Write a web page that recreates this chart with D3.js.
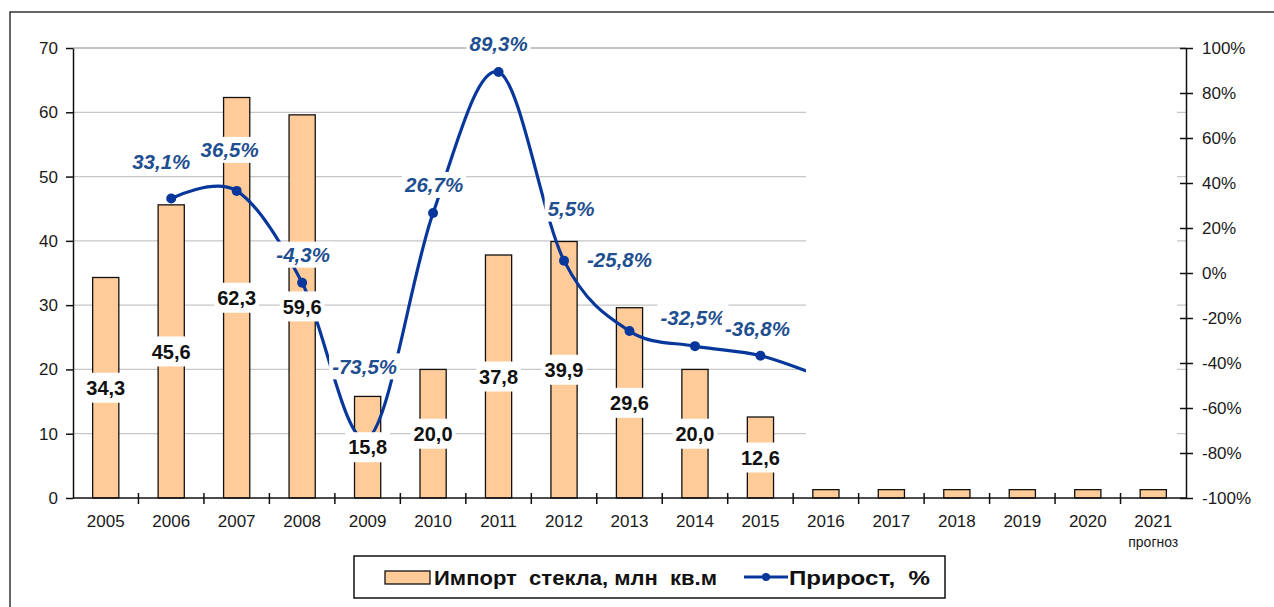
<!DOCTYPE html>
<html>
<head>
<meta charset="utf-8">
<script src="https://cdn.jsdelivr.net/npm/d3@7"></script>
<style>
  html, body { margin: 0; padding: 0; background: #fff; }
  svg { display: block; }
  text { font-family: Arial, "Liberation Sans", sans-serif; }
</style>
</head>
<body>
<svg id="chart" width="1274" height="607"></svg>
<script>
// data
const years = ["2005","2006","2007","2008","2009","2010","2011","2012","2013","2014","2015","2016","2017","2018","2019","2020","2021"]
const imports = [34.3, 45.6, 62.3, 59.6, 15.8, 20.0, 37.8, 39.9, 29.6, 20.0, 12.6, 1.3, 1.3, 1.3, 1.3, 1.3, 1.3]
const importLabels = ["34,3","45,6","62,3","59,6","15,8","20,0","37,8","39,9","29,6","20,0","12,6","","","","","",""]
// growth, %, 2006..2016 (2016 hidden behind the blank box)
const growthYears = ["2006","2007","2008","2009","2010","2011","2012","2013","2014","2015","2016"]
const growth = [33.1, 36.5, -4.3, -73.5, 26.7, 89.3, 5.5, -25.8, -32.5, -36.8, -47]
const growthLabels = ["33,1%","36,5%","-4,3%","-73,5%","26,7%","89,3%","5,5%","-25,8%","-32,5%","-36,8%",""]
const leftTicks = [0, 10, 20, 30, 40, 50, 60, 70]
const rightTicks = [-100, -80, -60, -40, -20, 0, 20, 40, 60, 80, 100]
const seriesNames = ["Импорт  стекла, млн  кв.м", "Прирост,  %"]

// label placement relative to point (manual, like the original)
const labelShift = [[-10,-37],[-7,-41],[1,-28],[-3,-72],[1,-28],[0,-28],[7,-52],[-10,-71],[-2,-29],[-3,-27],[0,0]]

const svg = d3.select("#chart")
const L = 73, R = 1186, T = 48, B = 498

const x = d3.scaleBand().domain(years).range([L, R]).padding(0)
const yL = d3.scaleLinear().domain([0, 70]).range([B, T])
const yR = d3.scaleLinear().domain([-100, 100]).range([B, T])
const cx = d => x(d) + x.bandwidth() / 2
const barW = x.bandwidth() * 0.4

const lineColor = "#07379b"
const labColor = "#1f4f90"

// outer frame
svg.append("rect")
  .attr("x", 10).attr("y", 12).attr("width", 1400).attr("height", 800)
  .attr("fill", "none").attr("stroke", "#333").attr("stroke-width", 1.5)

// gridlines
svg.append("g").selectAll("line")
  .data(leftTicks.filter(v => v > 0))
  .join("line")
  .attr("x1", L).attr("x2", R)
  .attr("y1", d => yL(d)).attr("y2", d => yL(d))
  .attr("stroke", d => d == 70 ? "#8a8a8a" : "#c6c6c6")
  .attr("stroke-width", 1.2)

// bars
svg.append("g").selectAll("rect")
  .data(imports)
  .join("rect")
  .attr("x", (d, i) => cx(years[i]) - barW / 2)
  .attr("y", d => yL(d))
  .attr("width", barW)
  .attr("height", d => B - yL(d))
  .attr("fill", "#ffcc99")
  .attr("stroke", "#111")
  .attr("stroke-width", 1.3)

// growth line
const pts = growth.map((v, i) => ({ x: cx(growthYears[i]), y: yR(v), v, i }))
const line = d3.line().x(d => d.x).y(d => d.y).curve(d3.curveCardinal.tension(0))
svg.append("path")
  .attr("d", line(pts))
  .attr("fill", "none")
  .attr("stroke", lineColor)
  .attr("stroke-width", 3.2)

svg.append("g").selectAll("circle")
  .data(pts.slice(0, pts.length - 1))
  .join("circle")
  .attr("cx", d => d.x).attr("cy", d => d.y).attr("r", 5)
  .attr("fill", lineColor)

// bar value labels with white boxes
const barLab = svg.append("g")
imports.forEach((v, i) => {
  if (!importLabels[i]) return
  const g = barLab.append("g")
    .attr("transform", `translate(${cx(years[i])},${(yL(v) + B) / 2})`)
  const t = g.append("text")
    .attr("text-anchor", "middle").attr("dy", "0.36em")
    .attr("font-size", 20).attr("font-weight", "bold").attr("fill", "#111")
    .text(importLabels[i])
  const w = t.node().getComputedTextLength()
  g.insert("rect", "text")
    .attr("x", -w / 2 - 3).attr("y", -15).attr("width", w + 6).attr("height", 30)
    .attr("fill", "#fff")
})

// growth labels
const grLab = svg.append("g")
pts.forEach((p, i) => {
  if (!growthLabels[i]) return
  const g = grLab.append("g")
    .attr("transform", `translate(${p.x + labelShift[i][0]},${p.y + labelShift[i][1]})`)
  const t = g.append("text")
    .attr("text-anchor", "middle").attr("dy", "0.36em")
    .attr("font-size", 20.5).attr("font-weight", "bold").attr("font-style", "italic")
    .attr("fill", labColor)
    .text(growthLabels[i])
  const w = t.node().getComputedTextLength()
  g.insert("rect", "text")
    .attr("x", -w / 2 - 3).attr("y", -13).attr("width", w + 6).attr("height", 26)
    .attr("fill", "#fff")
})

// blank box over the forecast part
svg.append("rect")
  .attr("x", cx("2016") - 20).attr("y", T + 2)
  .attr("width", R - 9 - (cx("2016") - 20)).attr("height", yL(1.3) - 1 - (T + 2))
  .attr("fill", "#fff")

// left axis
const axL = svg.append("g").attr("transform", `translate(${L},0)`)
  .call(d3.axisLeft(yL).tickValues(leftTicks).tickSizeInner(7).tickSizeOuter(0).tickPadding(8))
axL.select(".domain").attr("stroke", "#111").attr("stroke-width", 1.5)
axL.selectAll(".tick line").attr("stroke", "#111").attr("stroke-width", 1.5)
axL.selectAll(".tick text").attr("font-size", 17).attr("fill", "#1a1a1a")
  .attr("font-family", "Arial, 'Liberation Sans', sans-serif")

// right axis
const axR = svg.append("g").attr("transform", `translate(${R},0)`)
  .call(d3.axisRight(yR).tickValues(rightTicks).tickSizeInner(7).tickSizeOuter(0).tickPadding(9)
    .tickFormat(d => d + "%"))
axR.select(".domain").attr("stroke", "#111").attr("stroke-width", 1.5)
axR.selectAll(".tick line").attr("x1", -6).attr("stroke", "#111").attr("stroke-width", 1.5)
axR.selectAll(".tick text").attr("font-size", 17).attr("fill", "#1a1a1a")
  .attr("font-family", "Arial, 'Liberation Sans', sans-serif")

// bottom axis
svg.append("line").attr("x1", L).attr("x2", R).attr("y1", B).attr("y2", B)
  .attr("stroke", "#111").attr("stroke-width", 1.5)
svg.append("g").selectAll("line")
  .data(years.slice(1))
  .join("line")
  .attr("x1", d => x(d)).attr("x2", d => x(d))
  .attr("y1", B - 5).attr("y2", B + 6)
  .attr("stroke", "#111").attr("stroke-width", 1.5)
svg.append("g").selectAll("text")
  .data(years)
  .join("text")
  .attr("x", d => cx(d)).attr("y", B + 29)
  .attr("text-anchor", "middle")
  .attr("font-size", 17).attr("fill", "#1a1a1a")
  .text(d => d)
svg.append("text")
  .attr("x", cx("2021")).attr("y", B + 49)
  .attr("text-anchor", "middle").attr("font-size", 14).attr("fill", "#1a1a1a")
  .text("прогноз")

// legend
const lg = svg.append("g").attr("transform", "translate(354,556)")
lg.append("rect").attr("width", 591).attr("height", 42)
  .attr("fill", "#fff").attr("stroke", "#111").attr("stroke-width", 1.5)
lg.append("rect").attr("x", 31).attr("y", 15).attr("width", 45).attr("height", 13)
  .attr("fill", "#ffcc99").attr("stroke", "#111").attr("stroke-width", 1.3)
lg.append("text").attr("x", 80).attr("y", 29)
  .attr("font-size", 21).attr("font-weight", "bold").attr("fill", "#111")
  .style("white-space", "pre")
  .style("font-family", "'Liberation Sans Narrow', 'Arial Narrow', Arial, sans-serif")
  .attr("textLength", 283).attr("lengthAdjust", "spacingAndGlyphs")
  .text(seriesNames[0])
lg.append("line").attr("x1", 390).attr("x2", 434).attr("y1", 21).attr("y2", 21)
  .attr("stroke", lineColor).attr("stroke-width", 3.2)
lg.append("circle").attr("cx", 412).attr("cy", 21).attr("r", 4).attr("fill", lineColor)
lg.append("text").attr("x", 435).attr("y", 29)
  .attr("font-size", 21).attr("font-weight", "bold").attr("fill", "#111")
  .style("white-space", "pre")
  .style("font-family", "'Liberation Sans Narrow', 'Arial Narrow', Arial, sans-serif")
  .attr("textLength", 141).attr("lengthAdjust", "spacingAndGlyphs")
  .text(seriesNames[1])
</script>
</body>
</html>
